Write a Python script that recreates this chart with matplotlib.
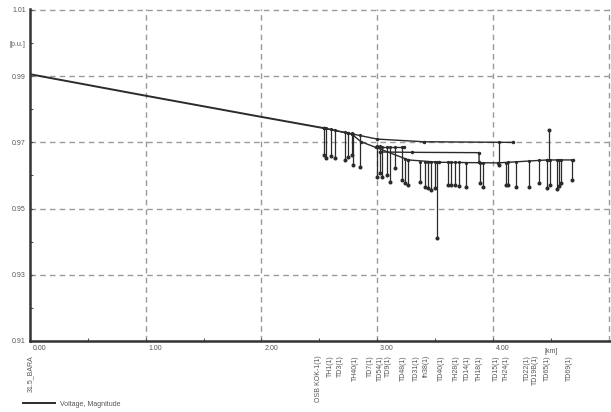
import matplotlib
matplotlib.use("Agg")
import matplotlib.pyplot as plt

plt.rcParams['font.family'] = ['Liberation Sans', 'DejaVu Sans']

# main feeder and branches (distance km, voltage p.u.)
trunk_km = [0.00, 1.00, 2.00, 2.54]
trunk_pu = [0.9906, 0.9841, 0.9777, 0.9743]

upper_km = [2.54, 2.75, 3.00, 3.40, 4.17]
upper_pu = [0.9743, 0.9728, 0.9710, 0.9702, 0.9700]

lower_km = [2.54, 2.78, 2.86, 3.27, 3.53, 4.04, 4.47, 4.69]
lower_pu = [0.9743, 0.9725, 0.9702, 0.9647, 0.9640, 0.9638, 0.9647, 0.9647]

mid1_km = [2.99, 3.23]
mid1_pu = [0.9686, 0.9686]

mid2_km = [3.02, 3.30, 3.88, 3.88]
mid2_pu = [0.9671, 0.9670, 0.9669, 0.9641]

# short laterals to the substations: position, voltage at tap, voltage at end
drop_km = [2.537, 2.554, 2.605, 2.631, 2.726, 2.751, 2.780, 2.795, 2.852,
           2.995, 3.024, 3.038, 3.081, 3.110, 3.153, 3.210, 3.239, 3.267,
           3.368, 3.411, 3.439, 3.468, 3.497, 3.519, 3.611, 3.640, 3.674,
           3.706, 3.769, 3.884, 3.912, 4.050, 4.113, 4.127, 4.199, 4.314,
           4.400, 4.465, 4.486, 4.494, 4.551, 4.571, 4.592, 4.686]
drop_top = [0.9743, 0.9742, 0.9739, 0.9737, 0.9731, 0.9729, 0.9727, 0.9726, 0.9722,
            0.9690, 0.9688, 0.9686, 0.9686, 0.9686, 0.9686, 0.9686, 0.9650, 0.9647,
            0.9642, 0.9641, 0.9641, 0.9641, 0.9641, 0.9641, 0.9640, 0.9640, 0.9640,
            0.9640, 0.9639, 0.9639, 0.9639, 0.9700, 0.9639, 0.9640, 0.9641, 0.9644,
            0.9646, 0.9647, 0.9647, 0.9647, 0.9647, 0.9647, 0.9647, 0.9647]
drop_end = [0.9662, 0.9652, 0.9659, 0.9653, 0.9647, 0.9657, 0.9662, 0.9632, 0.9627,
            0.9596, 0.9607, 0.9596, 0.9602, 0.9581, 0.9622, 0.9586, 0.9576, 0.9571,
            0.9581, 0.9566, 0.9561, 0.9556, 0.9561, 0.9410, 0.9571, 0.9571, 0.9571,
            0.9569, 0.9566, 0.9576, 0.9566, 0.9632, 0.9571, 0.9571, 0.9566, 0.9566,
            0.9576, 0.9561, 0.9737, 0.9571, 0.9559, 0.9569, 0.9576, 0.9586]

node_names = ["31.5_BARA", "OSB KOK-1(1)", "TH1(1)", "TD3(1)", "TH40(1)", "TD7(1)",
              "TD54(1)", "TD9(1)", "TD48(1)", "TD31(1)", "th38(1)", "TD40(1)",
              "TH28(1)", "TD14(1)", "TH18(1)", "TD15(1)", "TH24(1)", "TD22(1)",
              "TD19B(1)", "TD65(1)", "TD69(1)"]
node_km = [0.000, 2.494, 2.594, 2.680, 2.809, 2.938, 3.024, 3.095, 3.224, 3.339,
           3.425, 3.554, 3.683, 3.783, 3.884, 4.027, 4.113, 4.299, 4.371, 4.471, 4.658]

fig = plt.figure(figsize=(6.11, 4.12), dpi=100)
ax = fig.add_axes([30 / 611, 71 / 412, 581 / 611, 332 / 412])

gcol = "#9a9a9a"
for gx in [1, 2, 3, 4, 5]:
    ax.axvline(gx, color=gcol, lw=1, ls=(0, (4, 3)), zorder=0)
for gy in [0.93, 0.95, 0.97, 0.99, 1.01]:
    ax.axhline(gy, color=gcol, lw=1, ls=(0, (4, 3)), zorder=0)

lc = "#2b2b2b"
ax.plot(trunk_km, trunk_pu, color=lc, lw=1.4, label="Voltage, Magnitude")
for bx, by in [(upper_km, upper_pu), (lower_km, lower_pu),
               (mid1_km, mid1_pu), (mid2_km, mid2_pu)]:
    ax.plot(bx, by, color=lc, lw=1.0, marker="o", ms=1.5)
ax.vlines(drop_km, drop_top, drop_end, color=lc, lw=0.9)
ax.plot(drop_km, drop_end, ls="none", marker="o", ms=1.9, color=lc)
ax.plot(drop_km, drop_top, ls="none", marker="o", ms=1.3, color=lc)

ax.set_xlim(0, 5.02)
ax.set_ylim(0.91, 1.0103)

for s in ["top", "right"]:
    ax.spines[s].set_visible(False)
for s in ["left", "bottom"]:
    ax.spines[s].set_linewidth(1.8)
    ax.spines[s].set_color("#333333")

tc = "#555555"
ax.set_xticks([0, 0.5, 1, 1.5, 2, 2.5, 3, 3.5, 4, 4.5])
ax.set_xticklabels(["", "", "", "", "", "", "", "", "", "[km]"], fontsize=5, color=tc)
for v in [0, 1, 2, 3, 4]:
    ax.text(v + 0.025, -0.022, "%.2f" % v, transform=ax.get_xaxis_transform(),
            fontsize=5, color=tc, ha="left", va="center")
yt = [0.91, 0.92, 0.93, 0.94, 0.95, 0.96, 0.97, 0.98, 0.99, 1.00, 1.01]
ylab = ["0.91", "", "0.93", "", "0.95", "", "0.97", "", "0.99", "[p.u.]", "1.01"]
ax.set_yticks(yt)
ax.set_yticklabels(ylab, fontsize=5, color=tc)
ax.tick_params(direction="in", length=2, width=0.8, color="#555555", pad=3)
ax.tick_params(axis="x", pad=5)

for name, km in zip(node_names, node_km):
    ax.text(km, -0.042, name, transform=ax.get_xaxis_transform(), rotation=90,
            ha="center", va="top", fontsize=5, color=tc)

fig.legend(loc="center left", bbox_to_anchor=(20 / 611, 8 / 412), frameon=False,
           fontsize=5, handlelength=4.5, handletextpad=0.8, borderpad=0,
           labelcolor=tc)

fig.savefig("out.png", dpi=100)
